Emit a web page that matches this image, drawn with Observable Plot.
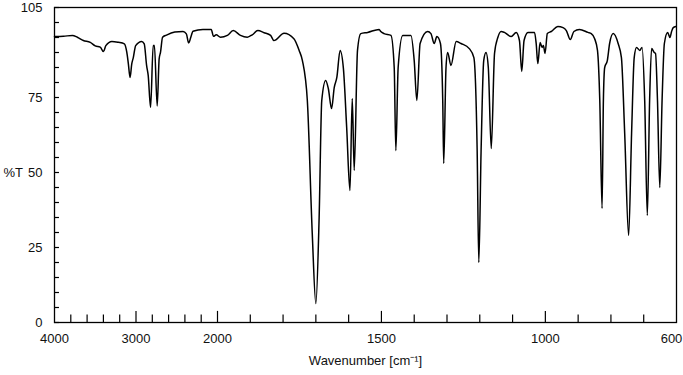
<!DOCTYPE html>
<html><head><meta charset="utf-8">
<script src="https://cdn.jsdelivr.net/npm/d3@7"></script>
<script src="https://cdn.jsdelivr.net/npm/@observablehq/plot@0.6"></script>
<style>body{margin:0;background:#fff;}</style>
</head><body><div id="chart"></div>
<script>
const wavenumber = [4000,3890,3780,3720,3646,3561,3500,3439,3399,3370,3296,3216,3143,3113,3094,3073,3052,3033,3004,2930,2899,2870,2850,2821,2789,2774,2740,2716,2699,2674,2626,2524,2423,2382,2354,2321,2301,2179,2077,2049,2016,
1991,1970,1952,1930,1909,1894,1877,1858,1838,1828,1797,1767,1751,1741,1726,1711,1700,1690,1682,1670,1662,1652,1644,1636,1626,1616,1606,1596,1589,1583,1573,1563,1542,1507,1502,1492,1471,1461,1456,1449,1435,1410,1400,1392,1382,1359,1349,1339,1331,1320,1313,1310,1303,1298,1288,1272,1257,1232,1218,1208,1203,1196,1188,1181,1174,1165,1155,1145,1135,1125,1104,1089,1079,1072,1065,1053,1033,1028,1023,1016,1010,1006,1001,994,982,962,946,936,924,913,896,870,860,850,841,834,827,823,819,811,804,793,778,768,758,746,737,729,722,712,705,697,689,682,676,668,664,658,651,644,637,627,620,615,610,602];
const transmittance = [95.3,95.4,95.7,95.1,94.0,93.4,92.2,91.8,90.3,92.3,93.7,93.4,92.9,90.1,86.3,81.7,86.2,88.3,92.3,93.7,92.9,85.7,82.3,71.7,92.3,92.3,72.2,87.9,90.1,95.1,95.8,96.8,97.0,96.2,93.2,95.7,97.1,97.7,97.7,95.4,95.9,
95.1,95.7,97.3,95.7,95.1,95.9,97.3,96.6,95.7,94.0,96.4,94.6,90.7,87.3,74.0,29.7,6.3,35.0,74.0,80.7,78.0,71.3,78.3,81.7,90.7,84.7,65.0,44.0,74.7,50.7,90.7,96.3,96.7,97.7,97.0,96.3,95.7,85.0,57.3,85.0,95.7,95.7,87.3,74.0,93.0,97.0,96.3,93.0,95.3,93.0,74.0,53.0,85.0,90.0,85.7,93.7,93.0,91.3,88.3,57.3,20.0,57.3,87.3,90.0,85.0,58.0,89.7,95.0,97.0,96.7,95.3,96.7,94.0,83.7,94.0,96.7,96.7,93.0,86.3,93.3,91.7,92.3,89.7,96.3,97.0,98.7,98.3,97.3,94.3,97.0,97.7,96.7,96.3,94.7,90.7,74.0,38.0,74.0,85.0,87.3,93.0,96.3,93.0,88.3,63.0,29.0,63.0,88.3,91.7,90.7,91.7,74.0,35.7,74.0,91.3,90.0,89.7,74.0,45.0,74.0,93.0,96.7,95.0,97.0,98.3,98.7];

const xTickLabels = [4000,3000,2000,1500,1000];
const xEndLabel = [600];
const xMajorTicks = [3000,2000,1500,1000];
const xMinorTicks = [3800,3600,3400,3200,2800,2600,2400,2200,1900,1800,1700,1600,1400,1300,1200,1100,900,800,700];
const yTickLabels = [0,25,50,75,105];
const yTicks = [0,5,10,15,20,25,30,35,40,45,50,55,60,65,70,75,80,85,90,95,100,105];

const data = wavenumber.map((w, i) => ({w, t: transmittance[i]}));

const chart = Plot.plot({
  width: 683,
  height: 375,
  marginTop: 7,
  marginBottom: 53,
  marginLeft: 54,
  marginRight: 7,
  x: {type: "linear", domain: [4000, 2000, 600], range: [54, 217, 676]},
  y: {domain: [0, 105]},
  style: {fontFamily: "'Liberation Sans', Arial, sans-serif", fontSize: "13px", color: "#111", background: "#fff"},
  marks: [
    Plot.ruleX(xMinorTicks, {x: d => d, y1: 0, y2: 2.5, stroke: "#000", strokeWidth: 1.2}),
    Plot.ruleX(xMajorTicks, {x: d => d, y1: 0, y2: 3.7, stroke: "#000", strokeWidth: 1.2}),
    Plot.ruleY(yTicks, {y: d => d, x1: 4000, x2: 3939, stroke: "#000", strokeWidth: 1.2}),
    Plot.line(data, {x: "w", y: "t", curve: "monotone-x", stroke: "#000", strokeWidth: 1.5}),
    Plot.frame({stroke: "#000", strokeWidth: 1.3}),
    Plot.axisX(xTickLabels, {tickSize: 0, tickPadding: 11, label: null, tickFormat: d => String(d), fontSize: 13}),
    Plot.axisX(xEndLabel, {tickSize: 0, tickPadding: 11, label: null, tickFormat: d => String(d), fontSize: 13, dx: -5}),
    Plot.axisY(yTickLabels, {tickSize: 0, tickPadding: 12, label: null, tickFormat: d => String(d), fontSize: 13}),
    Plot.text(["%T"], {x: 4000, y: 50, dx: -51, textAnchor: "start", fontSize: 13}),
    Plot.text(["Wavenumber [cm⁻¹]"], {frameAnchor: "bottom", dy: 42, fontSize: 13})
  ]
});
document.getElementById("chart").appendChild(chart);
</script>
</body></html>
